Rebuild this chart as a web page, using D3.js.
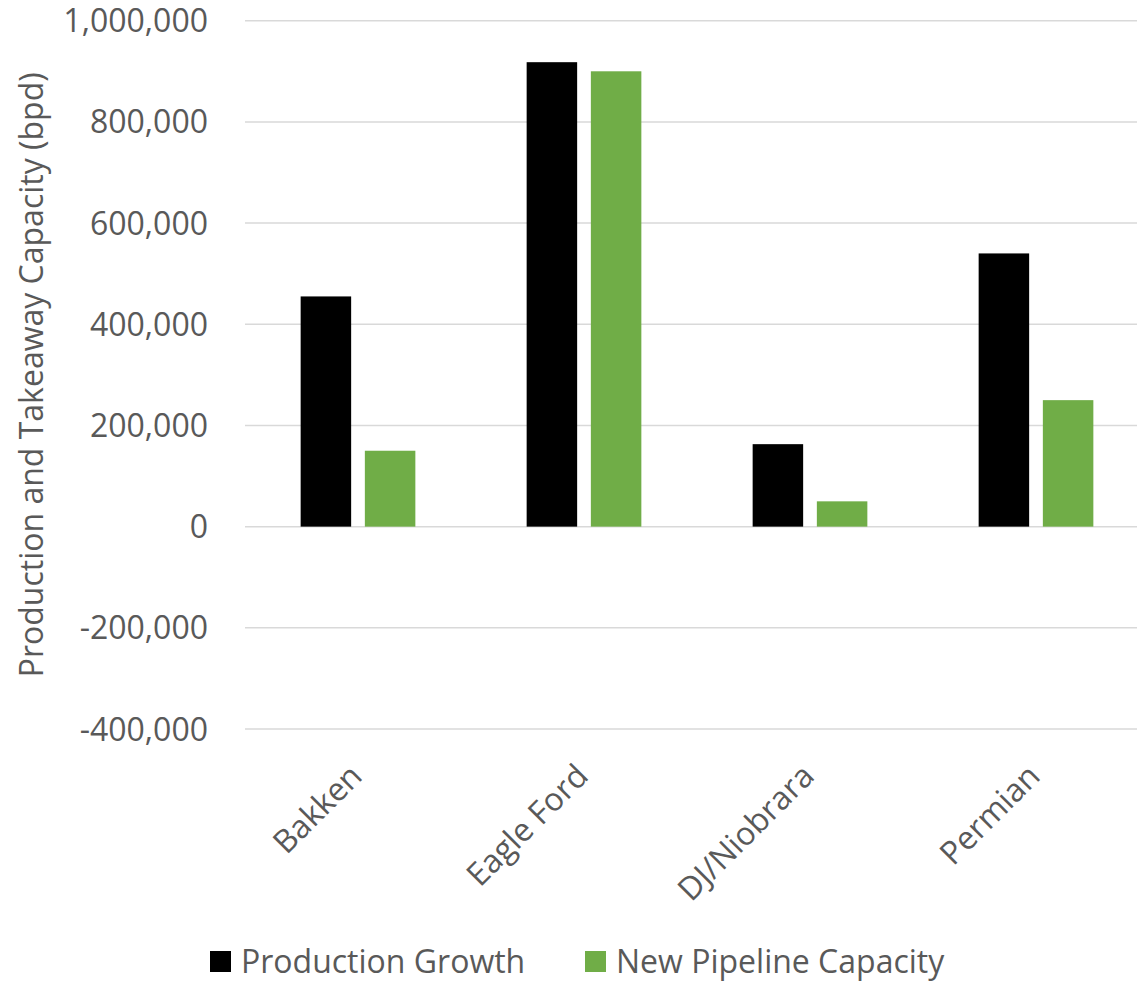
<!DOCTYPE html>
<html>
<head>
<meta charset="utf-8">
<script src="https://cdn.jsdelivr.net/npm/d3@7"></script>
<style>
  html, body { margin: 0; padding: 0; background: #fff; }
  svg { display: block; }
  text { font-family: "Open Sans", "Noto Sans", sans-serif; fill: #595959; }
</style>
</head>
<body>
<svg id="chart" width="1137" height="981"></svg>
<script>
// Basins and the two measures compared for each one (barrels per day)
const basins = ["Bakken", "Eagle Ford", "DJ/Niobrara", "Permian"];
const productionGrowth = [455000, 918000, 163000, 540000];
const newPipelineCapacity = [150000, 900000, 50000, 250000];
const seriesNames = ["Production Growth", "New Pipeline Capacity"];
const seriesColors = ["#000000", "#70ad47"];
const yTicks = [-400000, -200000, 0, 200000, 400000, 600000, 800000, 1000000];

const svg = d3.select("#chart");
const plot = { left: 245, right: 1149, top: 20.7, bottom: 729 };

const x = d3.scaleBand().domain(basins).range([plot.left, plot.right]).paddingInner(0).paddingOuter(0);
const y = d3.scaleLinear().domain([-400000, 1000000]).range([plot.bottom, plot.top]);
// thousands separators with a plain hyphen for negatives
const fmt = v => d3.format(",")(v).replace("\u2212", "-");

// Horizontal gridlines
svg.append("g")
  .selectAll("line")
  .data(yTicks)
  .join("line")
  .attr("x1", plot.left)
  .attr("x2", plot.right)
  .attr("y1", d => y(d))
  .attr("y2", d => y(d))
  .attr("stroke", "#d9d9d9")
  .attr("stroke-width", 1.5);

// Y axis tick labels
svg.append("g")
  .selectAll("text")
  .data(yTicks)
  .join("text")
  .attr("x", 208)
  .attr("y", d => y(d))
  .attr("dy", "0.36em")
  .attr("text-anchor", "end")
  .style("font-size", "32px")
  .text(d => fmt(d));

// Y axis title
svg.append("text")
  .attr("transform", "translate(43," + ((plot.top + plot.bottom) / 2) + ") rotate(-90)")
  .attr("text-anchor", "middle")
  .style("font-size", "32px")
  .text("Production and Takeaway Capacity (bpd)");

// Grouped bars
const barWidth = 50.5, barGap = 13.7;
const groupWidth = barWidth * 2 + barGap;
const rows = basins.map((b, i) => ({ basin: b, values: [productionGrowth[i], newPipelineCapacity[i]] }));

const groups = svg.append("g")
  .selectAll("g")
  .data(rows)
  .join("g")
  .attr("transform", d => "translate(" + (x(d.basin) + x.bandwidth() / 2 - groupWidth / 2) + ",0)");

groups.selectAll("rect")
  .data(d => d.values.map((v, k) => ({ v, k })))
  .join("rect")
  .attr("x", d => d.k * (barWidth + barGap))
  .attr("width", barWidth)
  .attr("y", d => y(Math.max(0, d.v)))
  .attr("height", d => Math.abs(y(d.v) - y(0)))
  .attr("fill", d => seriesColors[d.k]);

// Category labels, rotated
svg.append("g")
  .selectAll("text")
  .data(basins)
  .join("text")
  .attr("transform", d => "translate(" + (x(d) + x.bandwidth() / 2 + 6) + ",778) rotate(-45)")
  .attr("text-anchor", "end")
  .style("font-size", "32px")
  .text(d => d);

// Legend
const legend = svg.append("g").attr("transform", "translate(210,951)");
const legendX = [0, 375];
seriesNames.forEach((name, k) => {
  const item = legend.append("g").attr("transform", "translate(" + legendX[k] + ",0)");
  item.append("rect").attr("width", 21).attr("height", 21).attr("fill", seriesColors[k]);
  item.append("text")
    .attr("x", 31)
    .attr("y", 10.5)
    .attr("dy", "0.36em")
    .style("font-size", "32px")
    .text(name);
});
</script>
</body>
</html>
